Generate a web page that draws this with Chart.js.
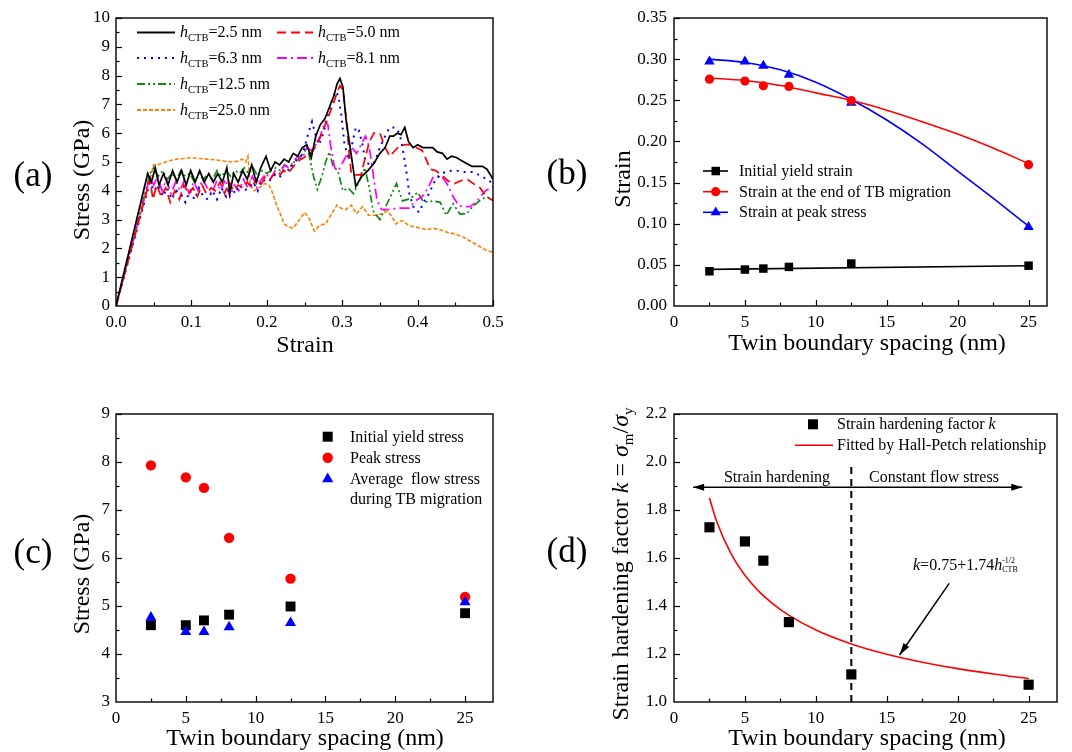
<!DOCTYPE html>
<html><head><meta charset="utf-8">
<script src="https://cdn.jsdelivr.net/npm/chart.js@4.4.1/dist/chart.umd.min.js"></script>
<style>
html,body{margin:0;padding:0;background:#fff}
body{width:1072px;height:752px;position:relative;overflow:hidden;font-family:"Liberation Serif","Times New Roman",serif;color:#000}
canvas{position:absolute}
.t{position:absolute;white-space:nowrap;line-height:1}
.c{transform:translate(-50%,-50%)}
.r{transform:translate(-50%,-50%) rotate(-90deg)}
.l{transform:translateY(-50%);font-size:16px}
.ax{font-size:24px}
.pl{font-size:35px}
.sb{font-size:10.5px;position:relative;top:4px}
.sb2{font-size:15px;position:relative;top:5px}
.stack{display:inline-block;vertical-align:-2px;font-size:8px;line-height:9px}
.stack span{display:block}
svg{position:absolute;left:0;top:0}
</style></head><body>
<canvas id="ca" width="520" height="380" style="left:0;top:0"></canvas>
<canvas id="cb" width="532" height="380" style="left:540px;top:0"></canvas>
<canvas id="cc" width="520" height="372" style="left:0;top:380px"></canvas>
<canvas id="cd" width="532" height="372" style="left:540px;top:380px"></canvas>

<svg width="1072" height="752">
  <!-- legend (a) samples -->
  <line x1="137" y1="32.5" x2="175" y2="32.5" stroke="#000" stroke-width="1.8"/>
  <line x1="277" y1="32.5" x2="313" y2="32.5" stroke="#ff0000" stroke-width="1.8" stroke-dasharray="9 5"/>
  <line x1="137" y1="58" x2="175" y2="58" stroke="#0000ff" stroke-width="2" stroke-dasharray="2 5"/>
  <line x1="277" y1="58" x2="313" y2="58" stroke="#ff00ff" stroke-width="1.8" stroke-dasharray="10 4 2 4"/>
  <line x1="137" y1="84" x2="175" y2="84" stroke="#118811" stroke-width="1.8" stroke-dasharray="8 3 2 3 2 3"/>
  <line x1="137" y1="110" x2="175" y2="110" stroke="#ff8000" stroke-width="1.8" stroke-dasharray="4 2"/>
  <!-- legend (b) samples -->
  <line x1="703" y1="171" x2="728" y2="171" stroke="#000" stroke-width="1.6"/>
  <rect x="711.5" y="166.8" width="8.5" height="8.5" fill="#000"/>
  <line x1="703" y1="191.7" x2="728" y2="191.7" stroke="#ff0000" stroke-width="1.6"/>
  <circle cx="715.7" cy="191.7" r="4.6" fill="#ff0000"/>
  <line x1="703" y1="212.3" x2="728" y2="212.3" stroke="#0000ff" stroke-width="1.6"/>
  <polygon points="715.7,206.5 720.8,215.3 710.6,215.3" fill="#0000ff"/>
  <!-- legend (c) samples -->
  <rect x="322.7" y="431.7" width="10" height="10" fill="#000"/>
  <circle cx="327.7" cy="457.7" r="5.2" fill="#ff0000"/>
  <polygon points="327.7,472.5 333.3,482.3 322.1,482.3" fill="#0000ff"/>
  <!-- legend (d) samples -->
  <rect x="808" y="419.3" width="10" height="10" fill="#000"/>
  <line x1="795" y1="445.3" x2="833" y2="445.3" stroke="#ff0000" stroke-width="1.6"/>
</svg>

<!-- panel labels -->
<div class="t c pl" style="left:33px;top:174px">(a)</div>
<div class="t c pl" style="left:567px;top:172px">(b)</div>
<div class="t c pl" style="left:33px;top:551px">(c)</div>
<div class="t c pl" style="left:567px;top:550px">(d)</div>

<!-- axis titles -->
<div class="t r ax" style="left:81px;top:180px">Stress (GPa)</div>
<div class="t c ax" style="left:305px;top:344px">Strain</div>
<div class="t r ax" style="left:622px;top:179px">Strain</div>
<div class="t c ax" style="left:867px;top:342px">Twin boundary spacing (nm)</div>
<div class="t r ax" style="left:81px;top:574px">Stress (GPa)</div>
<div class="t c ax" style="left:305px;top:737px">Twin boundary spacing (nm)</div>
<div class="t r ax" style="left:620px;top:564px">Strain hardening factor <i>k</i> = <i>σ</i><span class="sb2">m</span>/<i>σ</i><span class="sb2">y</span></div>
<div class="t c ax" style="left:867px;top:737px">Twin boundary spacing (nm)</div>

<!-- legend (a) text -->
<div class="t l" style="left:180px;top:32px"><i>h</i><span class="sb">CTB</span>=2.5 nm</div>
<div class="t l" style="left:318px;top:32px"><i>h</i><span class="sb">CTB</span>=5.0 nm</div>
<div class="t l" style="left:180px;top:58px"><i>h</i><span class="sb">CTB</span>=6.3 nm</div>
<div class="t l" style="left:318px;top:58px"><i>h</i><span class="sb">CTB</span>=8.1 nm</div>
<div class="t l" style="left:180px;top:84px"><i>h</i><span class="sb">CTB</span>=12.5 nm</div>
<div class="t l" style="left:180px;top:110px"><i>h</i><span class="sb">CTB</span>=25.0 nm</div>

<!-- legend (b) text -->
<div class="t l" style="left:739px;top:171px">Initial yield strain</div>
<div class="t l" style="left:739px;top:191.7px">Strain at the end of TB migration</div>
<div class="t l" style="left:739px;top:212.3px">Strain at peak stress</div>

<!-- legend (c) text -->
<div class="t l" style="left:350px;top:436.7px">Initial yield stress</div>
<div class="t l" style="left:350px;top:457.7px">Peak stress</div>
<div class="t l" style="left:350px;top:478.7px">Average&nbsp; flow stress</div>
<div class="t l" style="left:350px;top:499px">during TB migration</div>

<!-- legend (d) text -->
<div class="t l" style="left:837px;top:424.3px">Strain hardening factor <i>k</i></div>
<div class="t l" style="left:837px;top:445.3px">Fitted by Hall-Petch relationship</div>

<!-- annotations (d) -->
<div class="t c" style="left:777px;top:477px;font-size:16px">Strain hardening</div>
<div class="t c" style="left:934px;top:477px;font-size:16px">Constant flow stress</div>
<div class="t" style="left:913px;top:556px;font-size:16px"><i>k</i>=0.75+1.74<i>h</i><span class="stack"><span>-1/2</span><span>CTB</span></span></div>

<script>
// ---------------- Panel (a): stress-strain curves ----------------
const strain_25 = [0, 0.042, 0.047, 0.052, 0.057, 0.063, 0.069, 0.075, 0.081, 0.087, 0.093, 0.099, 0.105, 0.111, 0.117, 0.123, 0.129, 0.135, 0.141, 0.147, 0.151, 0.156, 0.162, 0.168, 0.174, 0.180, 0.186, 0.192, 0.199, 0.205, 0.211, 0.217, 0.223, 0.229, 0.235, 0.241, 0.247, 0.253, 0.259, 0.265, 0.271, 0.277, 0.283, 0.289, 0.293, 0.297, 0.301, 0.305, 0.310, 0.318, 0.326, 0.334, 0.342, 0.350, 0.357, 0.363, 0.368, 0.373, 0.378, 0.383, 0.388, 0.394, 0.400, 0.407, 0.414, 0.420, 0.426, 0.433, 0.439, 0.445, 0.452, 0.458, 0.465, 0.472, 0.479, 0.486, 0.492, 0.500];
const stress_25 = [0, 4.6, 4.3, 4.8, 4.2, 4.6, 4.2, 4.7, 4.3, 4.7, 4.2, 4.7, 4.3, 4.7, 4.3, 4.6, 4.3, 4.6, 4.3, 4.8, 3.9, 4.6, 4.3, 4.7, 4.4, 4.9, 4.3, 4.8, 5.2, 4.7, 5.0, 4.9, 5.1, 5.0, 5.3, 5.2, 5.5, 5.6, 5.15, 5.9, 6.3, 6.5, 6.9, 7.3, 7.7, 7.9, 7.6, 6.5, 5.6, 4.15, 4.5, 4.7, 4.95, 5.3, 5.5, 5.9, 5.9, 6.0, 5.95, 6.2, 5.7, 5.5, 5.6, 5.5, 5.5, 5.5, 5.35, 5.3, 5.1, 5.2, 5.15, 5.05, 4.95, 4.85, 4.85, 4.85, 4.75, 4.4];

const strain_50 = [0, 0.045, 0.049, 0.054, 0.060, 0.066, 0.072, 0.078, 0.084, 0.090, 0.096, 0.102, 0.108, 0.114, 0.120, 0.126, 0.132, 0.138, 0.144, 0.150, 0.156, 0.162, 0.168, 0.174, 0.180, 0.186, 0.192, 0.198, 0.204, 0.210, 0.216, 0.222, 0.228, 0.234, 0.240, 0.246, 0.252, 0.258, 0.264, 0.270, 0.276, 0.282, 0.288, 0.293, 0.297, 0.301, 0.305, 0.309, 0.312, 0.318, 0.325, 0.330, 0.336, 0.342, 0.350, 0.357, 0.363, 0.370, 0.376, 0.383, 0.390, 0.398, 0.406, 0.412, 0.417, 0.424, 0.432, 0.440, 0.449, 0.457, 0.466, 0.474, 0.483, 0.491, 0.500];
const stress_50 = [0, 4.4, 3.7, 4.2, 3.8, 4.1, 3.6, 4.0, 3.7, 4.2, 3.9, 4.1, 3.8, 4.2, 3.9, 4.1, 4.0, 4.3, 3.9, 4.3, 4.0, 4.2, 4.1, 4.3, 4.1, 4.4, 4.2, 4.5, 4.4, 4.6, 4.5, 4.7, 4.6, 4.8, 5.0, 5.1, 5.2, 5.3, 5.5, 5.8, 6.2, 6.6, 7.0, 7.4, 7.65, 7.5, 6.6, 5.4, 4.6, 4.55, 4.55, 5.1, 5.7, 6.0, 6.0, 5.5, 5.2, 5.4, 5.55, 5.6, 5.6, 5.5, 5.4, 5.05, 4.75, 4.7, 4.55, 4.35, 4.25, 4.35, 4.4, 4.25, 4.1, 3.8, 3.66];

const strain_63 = [0, 0.045, 0.050, 0.056, 0.062, 0.068, 0.074, 0.080, 0.086, 0.092, 0.098, 0.104, 0.110, 0.116, 0.122, 0.128, 0.134, 0.140, 0.146, 0.152, 0.158, 0.164, 0.170, 0.176, 0.182, 0.188, 0.194, 0.200, 0.206, 0.212, 0.218, 0.224, 0.230, 0.236, 0.242, 0.248, 0.254, 0.260, 0.264, 0.269, 0.275, 0.281, 0.287, 0.291, 0.295, 0.299, 0.303, 0.308, 0.313, 0.318, 0.322, 0.327, 0.331, 0.337, 0.343, 0.350, 0.357, 0.363, 0.370, 0.376, 0.380, 0.385, 0.389, 0.395, 0.402, 0.408, 0.415, 0.423, 0.432, 0.442, 0.452, 0.462, 0.472, 0.482, 0.492, 0.500];
const stress_63 = [0, 4.3, 4.0, 4.2, 3.8, 4.1, 3.7, 4.0, 3.9, 3.6, 4.0, 3.7, 4.1, 3.8, 3.7, 4.0, 3.7, 4.1, 3.8, 4.2, 3.9, 4.2, 4.0, 4.1, 4.3, 4.0, 4.4, 4.3, 4.4, 4.6, 4.5, 4.8, 4.7, 5.0, 5.1, 5.3, 5.9, 6.4, 6.0, 5.6, 6.0, 6.6, 7.2, 7.45, 7.3, 6.6, 5.6, 5.2, 5.6, 6.2, 6.1, 5.6, 5.0, 4.9, 5.0, 5.5, 5.9, 6.2, 6.2, 6.0, 5.5, 4.7, 3.9, 3.4, 3.25, 3.6, 3.9, 4.35, 4.6, 4.7, 4.7, 4.65, 4.65, 4.55, 4.4, 4.25];

const strain_81 = [0, 0.045, 0.050, 0.055, 0.061, 0.067, 0.073, 0.079, 0.085, 0.091, 0.097, 0.103, 0.109, 0.115, 0.121, 0.127, 0.133, 0.139, 0.145, 0.151, 0.157, 0.163, 0.169, 0.175, 0.181, 0.187, 0.193, 0.199, 0.205, 0.211, 0.217, 0.223, 0.229, 0.235, 0.241, 0.247, 0.253, 0.259, 0.265, 0.271, 0.277, 0.281, 0.285, 0.290, 0.295, 0.301, 0.307, 0.313, 0.319, 0.325, 0.331, 0.336, 0.341, 0.346, 0.352, 0.362, 0.376, 0.389, 0.397, 0.406, 0.414, 0.421, 0.432, 0.440, 0.447, 0.454, 0.461, 0.470, 0.479, 0.490, 0.500];
const stress_81 = [0, 4.5, 4.2, 4.5, 4.0, 4.4, 3.9, 4.3, 4.0, 4.4, 3.9, 4.3, 4.0, 4.4, 4.1, 3.9, 4.3, 4.0, 4.4, 3.8, 4.2, 4.0, 4.4, 4.1, 4.5, 4.1, 4.4, 4.6, 4.4, 4.7, 4.6, 4.9, 4.8, 5.0, 5.2, 5.1, 5.5, 5.4, 5.6, 5.9, 6.4, 6.3, 5.5, 4.8, 4.7, 5.0, 5.3, 5.5, 5.3, 5.6, 5.9, 5.5, 4.6, 3.7, 3.35, 3.35, 3.4, 3.4, 3.65, 3.8, 4.1, 4.5, 4.5, 4.2, 3.8, 3.5, 3.45, 3.45, 3.65, 4.0, 4.15];

const strain_125 = [0, 0.045, 0.050, 0.056, 0.062, 0.068, 0.074, 0.080, 0.086, 0.092, 0.098, 0.104, 0.110, 0.116, 0.122, 0.128, 0.134, 0.140, 0.146, 0.152, 0.158, 0.164, 0.170, 0.176, 0.182, 0.188, 0.194, 0.200, 0.206, 0.212, 0.218, 0.224, 0.230, 0.236, 0.242, 0.248, 0.254, 0.258, 0.262, 0.267, 0.273, 0.278, 0.283, 0.288, 0.294, 0.301, 0.308, 0.315, 0.322, 0.330, 0.336, 0.341, 0.350, 0.356, 0.364, 0.372, 0.380, 0.387, 0.394, 0.400, 0.407, 0.414, 0.420, 0.430, 0.438, 0.447, 0.456, 0.465, 0.473, 0.482, 0.491, 0.500];
const stress_125 = [0, 4.6, 4.8, 4.5, 4.7, 4.4, 4.6, 4.4, 4.7, 4.5, 4.6, 4.3, 4.6, 4.4, 4.6, 4.4, 4.7, 4.5, 4.7, 4.5, 4.7, 4.6, 4.8, 4.6, 4.8, 4.5, 4.7, 4.6, 4.7, 4.8, 4.7, 4.9, 4.8, 5.0, 5.1, 5.3, 5.5, 5.0, 4.5, 4.05, 4.5, 5.0, 5.35, 4.85, 4.7, 4.0, 4.1, 3.9, 4.3, 4.8, 4.1, 3.3, 3.0, 3.35, 3.8, 4.25, 3.65, 3.7, 3.8, 3.95, 3.65, 3.6, 3.65, 3.6, 3.15, 3.55, 3.2, 3.2, 3.45, 3.65, 3.8, 3.7];

const strain_250 = [0, 0.050, 0.055, 0.060, 0.066, 0.072, 0.080, 0.090, 0.100, 0.110, 0.120, 0.130, 0.140, 0.150, 0.160, 0.167, 0.172, 0.175, 0.178, 0.183, 0.190, 0.197, 0.203, 0.208, 0.213, 0.218, 0.223, 0.229, 0.235, 0.242, 0.250, 0.256, 0.263, 0.270, 0.278, 0.286, 0.293, 0.298, 0.305, 0.312, 0.319, 0.327, 0.335, 0.343, 0.352, 0.360, 0.366, 0.371, 0.376, 0.381, 0.388, 0.396, 0.404, 0.412, 0.420, 0.430, 0.440, 0.450, 0.460, 0.470, 0.480, 0.490, 0.500];
const stress_250 = [0, 4.9, 4.9, 4.95, 5.0, 5.05, 5.1, 5.12, 5.15, 5.12, 5.1, 5.08, 5.05, 5.0, 5.02, 5.1, 5.0, 5.2, 4.2, 4.0, 4.1, 4.25, 4.2, 3.9, 3.5, 3.2, 2.85, 2.75, 2.7, 2.95, 3.25, 3.05, 2.6, 2.8, 2.85, 3.2, 3.5, 3.4, 3.35, 3.5, 3.2, 3.45, 3.15, 3.15, 3.2, 3.3, 3.1, 2.85, 2.95, 2.95, 2.8, 2.75, 2.7, 2.65, 2.7, 2.65, 2.55, 2.5, 2.4, 2.25, 2.1, 1.95, 1.86];

// ---------------- Panels (b)-(d): vs twin boundary spacing ----------------
const spacing = [2.5, 5, 6.3, 8.1, 12.5, 25];
// (b)
const yieldStrain = [0.0422, 0.0443, 0.0455, 0.0475, 0.0516, 0.0490];
const tbEndStrain = [0.2757, 0.2733, 0.2676, 0.2668, 0.2497, 0.1717];
const peakStrain  = [0.297, 0.297, 0.292, 0.281, 0.247, 0.096];
const yieldFitX = [2.5, 25];
const yieldFit  = [0.0445, 0.0490];
const curveFitX = [2.5, 5, 7.5, 10, 12.5, 15, 17.5, 20, 22.5, 25];
const tbEndFit  = [0.277, 0.274, 0.268, 0.259, 0.250, 0.238, 0.224, 0.209, 0.192, 0.173];
const peakFit   = [0.300, 0.296, 0.287, 0.272, 0.251, 0.226, 0.197, 0.164, 0.131, 0.097];
// (c)
const yieldStress = [4.60, 4.60, 4.70, 4.82, 4.99, 4.85];
const peakStress  = [7.93, 7.68, 7.46, 6.42, 5.57, 5.19];
const flowStress  = [4.76, 4.46, 4.46, 4.56, 4.65, 5.08];
// (d)
const hardening = [1.728, 1.669, 1.589, 1.333, 1.115, 1.072];
const hpFitX = [2.5, 3, 4, 5, 6, 7, 8, 10, 12.5, 15, 17.5, 20, 22.5, 25];
const hpFitK = [1.85, 1.754, 1.62, 1.528, 1.46, 1.408, 1.365, 1.30, 1.242, 1.199, 1.166, 1.139, 1.117, 1.098];
const boundaryX = [12.5, 12.5], boundaryK = [1.0, 1.99];
const regimeX = [1.35, 24.55], regimeK = [1.895, 1.895];
const noteArrowX = [19.4, 15.9], noteArrowK = [1.494, 1.196];

// tick settings
const ticksA = {xMajor: 0.1, xMinor: 0.05, yMajor: 1, yMinor: 0.5};
const ticksB = {xMajor: 5, xMinor: 2.5, yMajor: 0.05, yMinor: 0.025};
const ticksC = {xMajor: 5, xMinor: 2.5, yMajor: 1, yMinor: 0.5};
const ticksD = {xMajor: 5, xMinor: 2.5, yMajor: 0.2, yMinor: 0.1};

const SERIF = '"Liberation Serif", "Times New Roman", serif';
const pts = (xs, ys) => xs.map((x, i) => ({x: x, y: ys[i]}));

const frameTicks = {
  id: 'frameTicks',
  afterDatasetsDraw(chart, args, o) {
    const {ctx, chartArea: a} = chart;
    const x = chart.scales.x, y = chart.scales.y;
    ctx.save();
    ctx.strokeStyle = '#000';
    ctx.lineWidth = 1.4;
    ctx.strokeRect(a.left, a.top, a.right - a.left, a.bottom - a.top);
    ctx.lineWidth = 1.2;
    const mk = (scale, minor, major, horiz) => {
      const n = Math.round((scale.max - scale.min) / minor + 1e-6);
      for (let i = 1; i <= n; i++) {
        const v = scale.min + i * minor;
        if (v > scale.max + 1e-9) break;
        const r = v / major;
        const isMajor = Math.abs(r - Math.round(r)) < 1e-6;
        const len = isMajor ? 6 : 3.5;
        const p = Math.round(scale.getPixelForValue(v)) + 0.5;
        ctx.beginPath();
        if (horiz) { ctx.moveTo(p, a.bottom); ctx.lineTo(p, a.bottom - len); }
        else { ctx.moveTo(a.left, p); ctx.lineTo(a.left + len, p); }
        ctx.stroke();
      }
    };
    mk(x, o.xMinor, o.xMajor, true);
    mk(y, o.yMinor, o.yMajor, false);
    ctx.restore();
  }
};

const arrows = {
  id: 'arrows',
  afterDatasetsDraw(chart) {
    const ctx = chart.ctx;
    chart.data.datasets.forEach((ds, i) => {
      if (!ds.arrowEnd && !ds.arrowStart) return;
      const p = chart.getDatasetMeta(i).data;
      const head = (tip, from) => {
        const ang = Math.atan2(tip.y - from.y, tip.x - from.x);
        const L = ds.headLen || 11, W = ds.headW || 3.5;
        const bx = tip.x - L * Math.cos(ang), by = tip.y - L * Math.sin(ang);
        ctx.beginPath();
        ctx.moveTo(tip.x, tip.y);
        ctx.lineTo(bx + W * Math.sin(ang), by - W * Math.cos(ang));
        ctx.lineTo(bx - W * Math.sin(ang), by + W * Math.cos(ang));
        ctx.closePath();
        ctx.fill();
      };
      ctx.save();
      ctx.fillStyle = ds.borderColor;
      if (ds.arrowEnd) head(p[p.length - 1], p[p.length - 2]);
      if (ds.arrowStart) head(p[0], p[1]);
      ctx.restore();
    });
  }
};

function axis(min, max, step, dec, size, horizontal, pad) {
  return {
    type: 'linear', min: min, max: max,
    grid: {display: false, drawTicks: false},
    border: {display: false},
    ticks: {
      stepSize: step, includeBounds: false, autoSkip: false, maxRotation: 0, minRotation: 0,
      padding: pad, color: '#000', font: {family: SERIF, size: 17},
      callback: v => Number(v).toFixed(dec)
    },
    afterFit: s => { if (horizontal) s.height = size; else s.width = size; }
  };
}

function options(xAx, yAx, pad, tk) {
  return {
    responsive: false, animation: false, devicePixelRatio: 1,
    layout: {padding: pad},
    plugins: {legend: {display: false}, tooltip: {enabled: false}, frameTicks: tk},
    scales: {x: xAx, y: yAx}
  };
}

function curve(xs, ys, color, dash, w) {
  return {data: pts(xs, ys), showLine: true, borderColor: color, backgroundColor: color,
    borderWidth: w || 1.6, borderDash: dash || [], pointRadius: 0, tension: 0, fill: false};
}
function fitCurve(xs, ys, color) {
  return {data: pts(xs, ys), showLine: true, borderColor: color, borderWidth: 1.6,
    pointRadius: 0, tension: 0.4, cubicInterpolationMode: 'monotone', fill: false};
}
function marks(ys, color, style, r) {
  return {data: pts(spacing, ys), showLine: false, pointStyle: style, pointRadius: r,
    pointBackgroundColor: color, pointBorderColor: color, pointBorderWidth: 0, backgroundColor: color, borderColor: color};
}

// (a)
new Chart(document.getElementById('ca'), {
  type: 'scatter',
  data: {datasets: [
    curve(strain_25, stress_25, '#000000', [], 1.7),
    curve(strain_50, stress_50, '#ff0000', [9, 5], 1.7),
    curve(strain_63, stress_63, '#0000ff', [2, 5], 2),
    curve(strain_81, stress_81, '#ff00ff', [10, 4, 2, 4], 1.7),
    curve(strain_125, stress_125, '#118811', [8, 3, 2, 3, 2, 3], 1.7),
    curve(strain_250, stress_250, '#ff8000', [4, 2], 1.6)
  ]},
  options: options(axis(0, 0.5, 0.1, 1, 74, true, 6), axis(0, 10, 1, 0, 116, false, 6),
    {top: 18, right: 27, left: 0, bottom: 0}, ticksA),
  plugins: [frameTicks]
});

// (b)
new Chart(document.getElementById('cb'), {
  type: 'scatter',
  data: {datasets: [
    marks(yieldStrain, '#000000', 'rect', 6),
    marks(tbEndStrain, '#ff0000', 'circle', 4.6),
    marks(peakStrain, '#0000ff', 'triangle', 6),
    curve(yieldFitX, yieldFit, '#000000', [], 1.6),
    fitCurve(curveFitX, tbEndFit, '#ff0000'),
    fitCurve(curveFitX, peakFit, '#0000ff')
  ]},
  options: options(axis(0, 26.3, 5, 0, 74, true, 6), axis(0, 0.35, 0.05, 2, 134, false, 7),
    {top: 18, right: 25, left: 0, bottom: 0}, ticksB),
  plugins: [frameTicks]
});

// (c)
new Chart(document.getElementById('cc'), {
  type: 'scatter',
  data: {datasets: [
    marks(flowStress, '#0000ff', 'triangle', 6.4),
    marks(peakStress, '#ff0000', 'circle', 5.2),
    marks(yieldStress, '#000000', 'rect', 7)
  ]},
  options: options(axis(0, 27, 5, 0, 50, true, 6), axis(3, 9, 1, 0, 116, false, 6),
    {top: 34, right: 27, left: 0, bottom: 0}, ticksC),
  plugins: [frameTicks]
});

// (d)
new Chart(document.getElementById('cd'), {
  type: 'scatter',
  data: {datasets: [
    marks(hardening, '#000000', 'rect', 7.2),
    fitCurve(hpFitX, hpFitK, '#ff0000'),
    Object.assign(curve(boundaryX, boundaryK, '#000000', [7, 5], 2)),
    Object.assign(curve(regimeX, regimeK, '#000000', [], 1.5), {arrowStart: true, arrowEnd: true, headLen: 11, headW: 3.5}),
    Object.assign(curve(noteArrowX, noteArrowK, '#000000', [], 1.5), {arrowEnd: true, headLen: 12, headW: 3.5})
  ]},
  options: options(axis(0, 27, 5, 0, 50, true, 6), axis(1.0, 2.2, 0.2, 1, 134, false, 7),
    {top: 34, right: 15, left: 0, bottom: 0}, ticksD),
  plugins: [frameTicks, arrows]
});
</script>
</body></html>
